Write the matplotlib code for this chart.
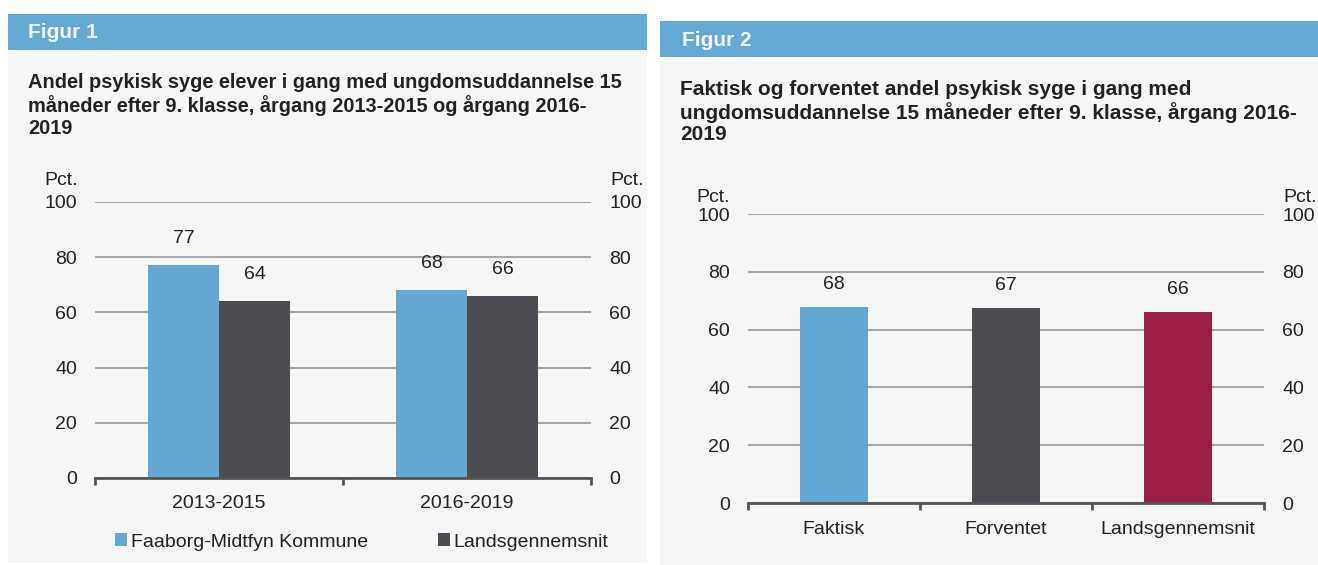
import matplotlib
matplotlib.use("Agg")
import matplotlib.pyplot as plt
from matplotlib.patches import Rectangle

plt.rcParams['font.family'] = ['Liberation Sans', 'DejaVu Sans']

# Figur 1 data
periods = ["2013-2015", "2016-2019"]
kommune = [77, 68]
landsgns = [64, 66]
series_names = ["Faaborg-Midtfyn Kommune", "Landsgennemsnit"]

# Figur 2 data
groups = ["Faktisk", "Forventet", "Landsgennemsnit"]
andel = [67.8, 67.6, 66.1]
andel_labels = ["68", "67", "66"]

yticks = [0, 20, 40, 60, 80, 100]

BLUE = "#63a8d3"
GREY = "#4c4d52"
RED = "#9b1f45"
HEADER = "#65aad5"
PANEL = "#f5f7f7"
GRID = "#a8a8a8"
TEXT = "#222222"

W, H = 1318, 565
fig = plt.figure(figsize=(W / 100, H / 100), dpi=100)
fig.patch.set_facecolor("white")


def box(x0, y0, x1, y1):
    return [x0 / W, 1 - y1 / H, (x1 - x0) / W, (y1 - y0) / H]


def rect(x0, y0, x1, y1, color):
    b = box(x0, y0, x1, y1)
    fig.patches.append(Rectangle((b[0], b[1]), b[2], b[3], transform=fig.transFigure,
                                 facecolor=color, edgecolor="none", zorder=-5))


def ftext(x, y, s, **kw):
    fig.text(x / W, 1 - y / H, s, **kw)


def style_axes(ax, ncat):
    ax.set_facecolor("none")
    ax.set_ylim(0, 100)
    ax.set_xlim(-0.5, ncat - 0.5)
    ax.set_yticks(yticks)
    for s in ["top", "left", "right"]:
        ax.spines[s].set_visible(False)
    ax.spines["bottom"].set_color("#555555")
    ax.spines["bottom"].set_linewidth(2)
    ax.yaxis.grid(True, color=GRID, linewidth=1.5)
    ax.set_axisbelow(True)
    ax.tick_params(axis="y", length=0, labelsize=14, labelcolor=TEXT, pad=13)
    ax.set_xticks(range(ncat))
    ax.set_xticks([i - 0.5 for i in range(ncat + 1)], minor=True)
    ax.tick_params(axis="x", which="major", length=0, labelsize=14, labelcolor=TEXT, pad=12)
    ax.tick_params(axis="x", which="minor", length=5, width=2, color="#555555")
    right = ax.twinx()
    right.set_ylim(0, 100)
    right.set_yticks(yticks)
    for s in right.spines.values():
        s.set_visible(False)
    right.tick_params(axis="y", length=0, labelsize=14, labelcolor=TEXT, pad=13)
    return right


# panel backgrounds and headers
rect(8, 14, 647, 563, PANEL)
rect(8, 14, 647, 50, HEADER)
rect(660, 21, 1318, 565, PANEL)
rect(660, 21, 1318, 57, HEADER)

ftext(28, 32, "Figur 1", color="#f4f8fc", fontsize=15, fontweight="bold", va="center")
ftext(682, 40, "Figur 2", color="#f4f8fc", fontsize=15, fontweight="bold", va="center")

ftext(28, 73, "Andel psykisk syge elever i gang med ungdomsuddannelse 15\n"
      "måneder efter 9. klasse, årgang 2013-2015 og årgang 2016-\n2019",
      color=TEXT, fontsize=14.4, fontweight="bold", va="top", linespacing=1.2)
ftext(680, 80, "Faktisk og forventet andel psykisk syge i gang med\n"
      "ungdomsuddannelse 15 måneder efter 9. klasse, årgang 2016-\n2019",
      color=TEXT, fontsize=15, fontweight="bold", va="top", linespacing=1.15)

# Figur 1
ax1 = fig.add_axes(box(95, 202, 591, 478))
style_axes(ax1, len(periods))
w = 0.286
x = list(range(len(periods)))
b1 = ax1.bar([i - w / 2 for i in x], kommune, width=w, color=BLUE, label=series_names[0])
b2 = ax1.bar([i + w / 2 for i in x], landsgns, width=w, color=GREY, label=series_names[1])
ax1.set_xticklabels(periods)
for bars, vals in [(b1, kommune), (b2, landsgns)]:
    for bar, v in zip(bars, vals):
        ax1.annotate(str(v), (bar.get_x() + bar.get_width() / 2, v), xytext=(0, 13),
                     textcoords="offset points", ha="center", va="bottom",
                     fontsize=14, color=TEXT)
ftext(44, 180, "Pct.", fontsize=14, color=TEXT, va="center")
ftext(610, 180, "Pct.", fontsize=14, color=TEXT, va="center")

leg = fig.legend(handles=[b1, b2], labels=series_names, loc="center",
                 bbox_to_anchor=(362 / W, 1 - 542 / H), ncol=2, frameon=False,
                 fontsize=14, handlelength=0.6, handleheight=0.6, handletextpad=0.2,
                 columnspacing=3.6, labelcolor=TEXT)

# Figur 2
ax2 = fig.add_axes(box(748, 214, 1264, 503))
style_axes(ax2, len(groups))
bars = ax2.bar(range(len(groups)), andel, width=0.395, color=[BLUE, GREY, RED])
ax2.set_xticklabels(groups)
ax2.tick_params(axis="x", which="major", pad=13)
for bar, v, lab in zip(bars, andel, andel_labels):
    ax2.annotate(lab, (bar.get_x() + bar.get_width() / 2, v), xytext=(0, 10),
                 textcoords="offset points", ha="center", va="bottom",
                 fontsize=14, color=TEXT)
ftext(696, 198, "Pct.", fontsize=14, color=TEXT, va="center")
ftext(1283, 198, "Pct.", fontsize=14, color=TEXT, va="center")

fig.savefig("out.png", dpi=100, facecolor=fig.get_facecolor())
